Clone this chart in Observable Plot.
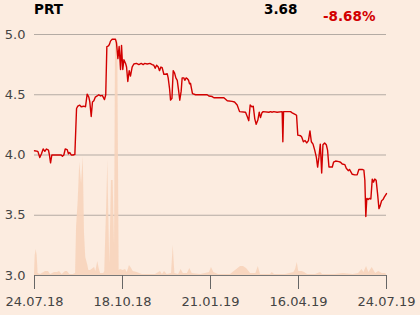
<!DOCTYPE html>
<html>
<head>
<meta charset="utf-8">
<script src="https://cdn.jsdelivr.net/npm/d3@7"></script>
<script src="https://cdn.jsdelivr.net/npm/@observablehq/plot@0.6"></script>
<style>
  html, body { margin: 0; padding: 0; background: #fcece0; }
  #wrap { position: relative; width: 420px; height: 315px; overflow: hidden; }
  .hdr { position: absolute; font-family: "DejaVu Sans", sans-serif; font-weight: bold; font-size: 13.5px; line-height: 1; white-space: nowrap; }
</style>
</head>
<body>
<div id="wrap"></div>
<script>
const ticker = "PRT";
const lastPrice = "3.68";
const change = "-8.68%";

// trading-day index (0 = 24.07.18, 252 = 24.07.19)
const priceDay = [0,2.4,3.8,5,6.2,7.4,8.6,10,10.7,11.5,12.4,19.1,20,21,22,23.4,24.3,25.3,26.3,27.7,28.9,
  30.1,31,32.4,33.4,35.3,36.5,37.7,38.9,39.6,40.6,41.5,42.5,43.5,44.9,46,47.3,48.5,49.2,50.1,51,
  51.8,53,53.7,54.4,55.6,58,58.7,59.7,60.6,61.6,62.3,63.2,64,65.2,65.9,66.8,67.8,68.7,69.9,71.1,
  73,74.7,76.4,77.8,78.8,80.7,82.6,84.3,85.4,86.4,87.4,88.6,89.5,90.5,91.4,92.6,93.8,95,95.7,96.7,
  97.4,98.4,99.3,100.3,101.2,102.2,103.1,104,105,105.7,106.9,107.6,108.6,109.3,110.3,111,111.7,112.4,113.1,
  115.3,123.6,124.8,127.2,128.4,135.6,138,141.5,143.2,145.1,146.8,151.1,152.3,153.4,154.4,155.6,156.6,157.7,
  158.7,159.9,160.9,161.8,162.8,163.7,167.8,169,170.2,171.3,173.7,177.3,177.8,178.3,183.3,184.5,186.9,187.6,
  188.5,190.5,191.3,192.5,193.7,194.9,196.1,197.2,198.2,199.4,200.6,201.8,202.7,203.6,204.6,205.6,206.5,
  207.7,208.9,209.8,210.8,213.2,214.1,215.6,217.9,219.1,220.3,222.2,223.2,224.6,225.5,227.5,229.3,231,
  232.2,234.6,235.8,236.5,237.2,237.9,238.9,239.8,240.8,241.8,242.7,243.6,244.6,245.6,246.6,247.5,248.5,
  249.5,250.4,252];
const price = [4.035,4.03,3.98,4.01,4.05,4.03,4.05,4.04,4.00,3.935,4.00,4.00,3.99,4.00,4.05,4.045,4.01,4.02,4.00,4.00,4.005,
  4.386,4.405,4.414,4.40,4.405,4.40,4.505,4.48,4.44,4.32,4.44,4.45,4.48,4.49,4.50,4.49,4.495,4.48,4.46,4.50,
  4.90,4.905,4.92,4.945,4.96,4.96,4.93,4.80,4.90,4.71,4.91,4.71,4.79,4.76,4.73,4.61,4.70,4.655,4.73,4.755,
  4.76,4.75,4.76,4.75,4.76,4.755,4.76,4.75,4.745,4.72,4.745,4.73,4.70,4.73,4.725,4.67,4.67,4.675,4.64,4.55,
  4.455,4.47,4.70,4.68,4.64,4.62,4.54,4.455,4.53,4.64,4.64,4.62,4.64,4.635,4.62,4.59,4.595,4.55,4.51,
  4.50,4.50,4.49,4.485,4.475,4.475,4.45,4.445,4.44,4.415,4.36,4.355,4.32,4.285,4.415,4.40,4.405,4.30,
  4.255,4.29,4.355,4.31,4.35,4.36,4.355,4.36,4.355,4.36,4.355,4.36,4.11,4.36,4.36,4.35,4.335,4.33,
  4.165,4.16,4.15,4.11,4.12,4.10,4.12,4.20,4.11,4.09,4.04,3.98,3.90,3.98,4.09,3.85,4.085,
  4.10,4.085,4.04,3.90,3.90,3.94,3.95,3.945,3.94,3.925,3.92,3.89,3.87,3.88,3.84,3.835,3.835,
  3.88,3.88,3.875,3.79,3.49,3.64,3.63,3.64,3.635,3.80,3.775,3.80,3.79,3.68,3.555,3.58,3.62,
  3.63,3.65,3.68];

// volume (thousands of shares)
const volDay = [0,0.5,1.2,1.9,2.6,4.3,7.9,10,11.5,14.3,16.5,17.9,19.8,22.2,23.6,25.3,27.9,29.4,30.1,31.3,32.4,33.7,
  34.9,35.8,36.7,38.2,38.9,40.1,42,43,43.9,45.3,46.3,47.3,49.6,50.3,51,51.6,52.5,53.2,53.9,55.1,56.3,57.3,58,
  59.6,60.6,61.6,63.5,65.2,66.4,68,69.5,70.7,73.5,77.1,80.7,86.6,90.2,91.6,93.1,95,98.1,99.3,100.5,103.1,105,
  106.5,109.5,111.2,112.9,118.9,122.4,125.3,126.7,128.4,131.7,137.5,140.3,147.5,149.6,151.8,154.7,158.5,160.2,
  161.8,169,170.2,171.8,176.1,179.7,185.7,186.9,188.1,189.2,191.7,193.3,195.5,201.2,204.8,206.2,215.5,221,
  228.2,232,234.5,235.8,237.7,239.4,241.8,244.2,246.5,249,251.3,252];
const volume = [20,200,260,200,20,10,40,40,10,30,30,40,10,40,40,10,10,20,480,750,1130,920,
  1190,420,180,100,50,50,70,80,40,140,70,20,20,40,400,660,1150,600,120,950,950,300,2350,
  2350,50,60,50,60,30,100,70,40,30,10,10,10,40,10,40,10,20,300,20,10,60,
  20,20,70,20,10,20,30,80,30,10,10,10,90,90,70,20,20,90,
  10,10,30,10,10,10,30,60,130,40,40,30,10,10,30,10,10,20,
  10,20,60,30,90,30,80,20,40,20,20,10];
const VOL_FULL = 2410; // volume that spans the whole 3.0–5.0 range

const tickDay = [0, 63, 126, 189, 252];
const tickLabel = ["24.07.18", "18.10.18", "21.01.19", "16.04.19", "24.07.19"];
const yTicks = [3.0, 3.5, 4.0, 4.5, 5.0];

const priceData = priceDay.map((d, i) => ({day: d, price: price[i]}));
const volData = volDay.map((d, i) => ({day: d, top: 3 + volume[i] / VOL_FULL * 2}));

const chart = Plot.plot({
  width: 420,
  height: 315,
  marginTop: 34,
  marginBottom: 40,
  marginLeft: 34,
  marginRight: 34,
  style: {background: "#fcece0", fontFamily: "DejaVu Sans, sans-serif", fontSize: "13px", color: "#444"},
  x: {domain: [0, 252]},
  y: {domain: [3, 5]},
  marks: [
    Plot.gridY(yTicks, {stroke: "#b4aba4", strokeOpacity: 1, strokeWidth: 1}),
    Plot.areaY(volData, {x: "day", y1: 3, y2: "top", fill: "#f7d4bb", fillOpacity: 0.9, curve: "linear"}),
    Plot.ruleY([3], {stroke: "#777", strokeWidth: 1.2}),
    Plot.axisY(yTicks, {tickSize: 0, tickPadding: 9, tickFormat: d3.format(".1f"), label: null, fill: "#444"}),
    Plot.axisX(tickDay, {tickSize: 14, tickPadding: 7, stroke: "#666", tickFormat: (d, i) => tickLabel[i], label: null, fill: "#444"}),
    Plot.lineY(priceData, {x: "day", y: "price", stroke: "#d20000", strokeWidth: 1.4, curve: "linear"})
  ]
});

const wrap = document.getElementById("wrap");
wrap.appendChild(chart);
function hdr(text, left, top, color) {
  const d = document.createElement("div");
  d.className = "hdr";
  d.textContent = text;
  d.style.left = left + "px";
  d.style.top = top + "px";
  d.style.color = color;
  wrap.appendChild(d);
}
hdr(ticker, 34, 3, "#000");
hdr(lastPrice, 264, 3, "#000");
hdr(change, 323, 10, "#d20000");
</script>
</body>
</html>
